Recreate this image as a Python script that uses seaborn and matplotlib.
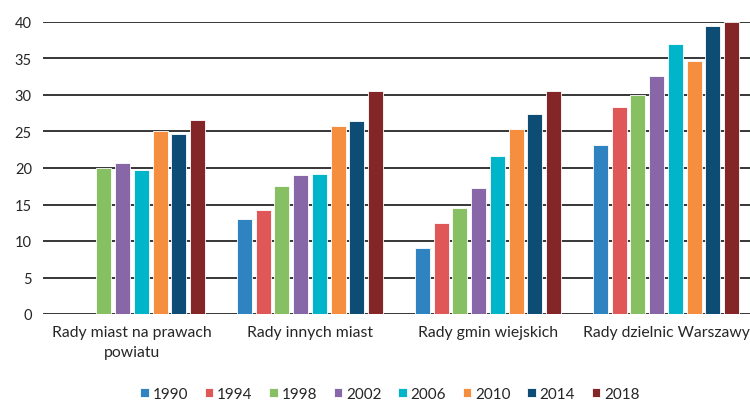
import numpy as np
import pandas as pd
import matplotlib
matplotlib.use("Agg")
import matplotlib.pyplot as plt
import seaborn as sns

categories = ["Rady miast na prawach\npowiatu", "Rady innych miast",
              "Rady gmin wiejskich", "Rady dzielnic Warszawy"]
years = ["1990", "1994", "1998", "2002", "2006", "2010", "2014", "2018"]
colors = ["#2E83C0", "#DF5757", "#87C062", "#8767A8",
          "#00B4CA", "#F58E3F", "#0C4C75", "#842528"]

# values per year, one entry per category (None = no bar)
v1990 = [None, 12.95, 9.1, 23.2]
v1994 = [None, 14.2, 12.4, 28.4]
v1998 = [20.0, 17.5, 14.5, 30.0]
v2002 = [20.75, 19.0, 17.3, 32.6]
v2006 = [19.7, 19.15, 21.6, 37.0]
v2010 = [25.1, 25.7, 25.4, 34.6]
v2014 = [24.7, 26.4, 27.4, 39.4]
v2018 = [26.6, 30.5, 30.5, 40.0]
series = [v1990, v1994, v1998, v2002, v2006, v2010, v2014, v2018]

rows = []
for year, vals in zip(years, series):
    for cat, v in zip(categories, vals):
        rows.append({"cat": cat, "year": year,
                     "value": np.nan if v is None else v})
df = pd.DataFrame(rows)

sns.set_style("white")
plt.rcParams["font.family"] = ["Lato", "DejaVu Sans"]

fig = plt.figure(figsize=(7.5, 4.02), dpi=100)
ax = fig.add_axes([43 / 750, 1 - 315 / 402, 712 / 750, 292 / 402])

sns.barplot(data=df, x="cat", y="value", hue="year", order=categories,
            hue_order=years, palette=colors, saturation=1, width=0.84,
            gap=0.2, errorbar=None, edgecolor="white", linewidth=0.6,
            ax=ax, legend=True)

ax.set_ylim(0, 40)
ax.set_yticks(range(0, 41, 5))
ax.set_xlim(-0.5, 3.5)
ax.yaxis.grid(True, color="#262626", linewidth=1.3)
ax.set_axisbelow(True)
for s in ax.spines.values():
    s.set_visible(False)
ax.tick_params(axis="both", length=0, labelsize=10.5, colors="#262626")
ax.tick_params(axis="x", pad=8, labelsize=11.3)
ax.tick_params(axis="y", pad=8)
for lbl in ax.get_xticklabels():
    lbl.set_linespacing(1.55)
ax.set_xlabel("")
ax.set_ylabel("")

handles, labels = ax.get_legend_handles_labels()
ax.legend_.remove()
fig.legend(handles, labels, loc="center", bbox_to_anchor=(0.52, 1 - 395 / 402),
           ncol=8, frameon=False, fontsize=11, handlelength=0.55,
           handleheight=0.55, handletextpad=0.25, columnspacing=1.1,
           labelcolor="#262626")

fig.savefig("out.png", dpi=100)
